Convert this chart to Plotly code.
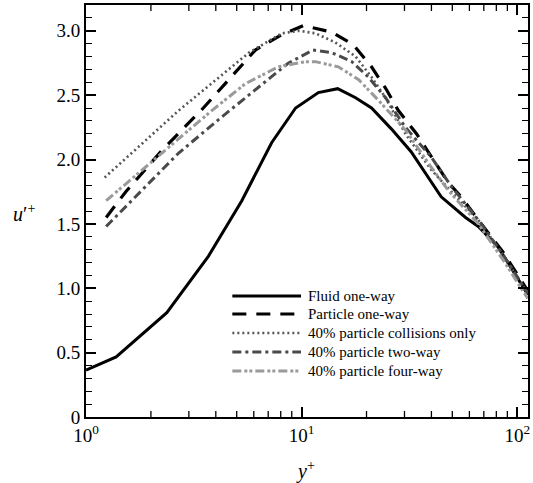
import plotly.graph_objects as go

# ---- data ----
fluid_x = [1, 1.38, 2.37, 3.7, 5.28, 7.26, 9.38, 11.96, 14.7, 17.8, 21.1, 26.0, 32.2, 44.4, 57.6, 66, 81.5, 108, 112]
fluid_y = [0.365, 0.466, 0.81, 1.25, 1.68, 2.13, 2.40, 2.52, 2.55, 2.48, 2.40, 2.24, 2.06, 1.71, 1.55, 1.48, 1.32, 0.99, 0.95]

p1_x = [1.24, 1.53, 2.25, 3.5, 6.1, 8.1, 10.2, 13.8, 17.4, 21.1, 24.8, 28.1, 34.1, 40.8, 47.9, 55, 66, 86, 112]
p1_y = [1.55, 1.75, 2.07, 2.40, 2.85, 2.97, 3.04, 2.99, 2.89, 2.72, 2.54, 2.38, 2.20, 2.00, 1.82, 1.71, 1.53, 1.28, 0.98]

col_x = [1.22, 2.69, 5.7, 8.1, 9.7, 11.6, 14.3, 17.8, 21.1, 24.5, 30.3, 39.9, 51.5, 66, 86, 112]
col_y = [1.86, 2.38, 2.83, 2.98, 3.00, 2.98, 2.91, 2.80, 2.64, 2.48, 2.20, 1.92, 1.72, 1.53, 1.26, 0.96]

tw_x = [1.24, 2.69, 4.26, 6.1, 8.7, 11.3, 13.8, 17.1, 20.4, 24.5, 30.3, 39.9, 49.5, 66, 86, 112]
tw_y = [1.48, 2.05, 2.33, 2.54, 2.75, 2.85, 2.83, 2.76, 2.64, 2.48, 2.25, 2.02, 1.79, 1.53, 1.26, 0.96]

fw_x = [1.24, 2.69, 3.83, 5.5, 7.8, 10.4, 11.6, 14.8, 18.4, 22.7, 30.3, 39.9, 47.9, 66, 86, 112]
fw_y = [1.68, 2.16, 2.38, 2.59, 2.72, 2.76, 2.76, 2.72, 2.62, 2.46, 2.23, 1.94, 1.76, 1.50, 1.22, 0.92]

series_names = ["Fluid one-way", "Particle one-way", "40% particle collisions only",
                "40% particle two-way", "40% particle four-way"]

x_tickvals = [1, 10, 100]
x_ticktext = ["10<sup>0</sup>", "10<sup>1</sup>", "10<sup>2</sup>"]
x_minor = [2, 3, 4, 5, 6, 7, 8, 9, 20, 30, 40, 50, 60, 70, 80, 90]
y_tickvals = [0, 0.5, 1.0, 1.5, 2.0, 2.5, 3.0]
y_ticktext = ["0", "0.5", "1.0", "1.5", "2.0", "2.5", "3.0"]

# ---- styles ----
styles = [
    dict(color="black", width=3, dash="solid"),
    dict(color="black", width=3.2, dash="14px,10px"),
    dict(color="#555555", width=2.6, dash="2px,3px"),
    dict(color="#4a4a4a", width=3, dash="9px,4px,3px,4px"),
    dict(color="#9a9a9a", width=3, dash="9px,3px,3px,2px,3px,3px"),
]
data = [(fluid_x, fluid_y), (p1_x, p1_y), (col_x, col_y), (tw_x, tw_y), (fw_x, fw_y)]

FONT = "Liberation Serif"

fig = go.Figure()
for (xs, ys), name, st in zip(data, series_names, styles):
    fig.add_trace(go.Scatter(x=xs, y=ys, mode="lines", name=name, line=st,
                             showlegend=False))

# ---- geometry of the plot area (pixels) ----
L, R, T, B = 86, 530, 5, 417
def px(xp):
    return (xp - L) / (R - L)
def py(yp):
    return (B - yp) / (B - T)

# ---- minor x ticks (inside, bottom and top) ----
mlen_y = 6 / (B - T)
for v in x_minor:
    for y0, y1 in [(0, mlen_y), (1 - mlen_y, 1)]:
        fig.add_shape(type="line", xref="x", yref="paper", x0=v, x1=v, y0=y0, y1=y1,
                      line=dict(color="black", width=1.3))

# ---- manual legend (sample lines + text) ----
rows = [296, 314, 333, 352, 371]
for name, st, ry in zip(series_names, styles, rows):
    fig.add_shape(type="line", xref="paper", yref="paper",
                  x0=px(233), x1=px(302), y0=py(ry), y1=py(ry),
                  line=dict(color=st["color"], width=st["width"], dash=st["dash"]))
    fig.add_annotation(text=name, xref="paper", yref="paper", x=px(307), y=py(ry),
                       xanchor="left", yanchor="middle", showarrow=False,
                       font=dict(family=FONT, size=15, color="black"))

# axis titles
fig.add_annotation(text="<i>u</i>′<sup>+</sup>", xref="paper", yref="paper",
                   x=px(24), y=py(213), xanchor="center", yanchor="middle",
                   showarrow=False, font=dict(family=FONT, size=20, color="black"))
fig.add_annotation(text="<i>y</i><sup>+</sup>", xref="paper", yref="paper",
                   x=px(306), y=py(470), xanchor="center", yanchor="middle",
                   showarrow=False, font=dict(family=FONT, size=20, color="black"))

fig.update_layout(
    xaxis=dict(type="log", range=[0, 2.05], tickmode="array",
               tickvals=x_tickvals, ticktext=x_ticktext,
               ticks="inside", ticklen=10, tickwidth=2, tickcolor="black",
               showline=True, linewidth=2, linecolor="black", mirror="ticks",
               showgrid=False, zeroline=False,
               tickfont=dict(family=FONT, size=19, color="black")),
    yaxis=dict(range=[0, 3.2], tickmode="array",
               tickvals=y_tickvals, ticktext=y_ticktext,
               ticks="inside", ticklen=10, tickwidth=2, tickcolor="black",
               showline=True, linewidth=2, linecolor="black", mirror="ticks",
               showgrid=False, zeroline=False,
               minor=dict(dtick=0.1, tick0=0, ticks="inside", ticklen=6, tickwidth=1.3,
                          tickcolor="black", showgrid=False),
               tickfont=dict(family=FONT, size=19, color="black")),
    width=533, height=483,
    margin=dict(l=L, r=533 - R, t=T, b=483 - B),
    paper_bgcolor="white", plot_bgcolor="white",
    showlegend=False,
)

fig.write_html("out.html")
